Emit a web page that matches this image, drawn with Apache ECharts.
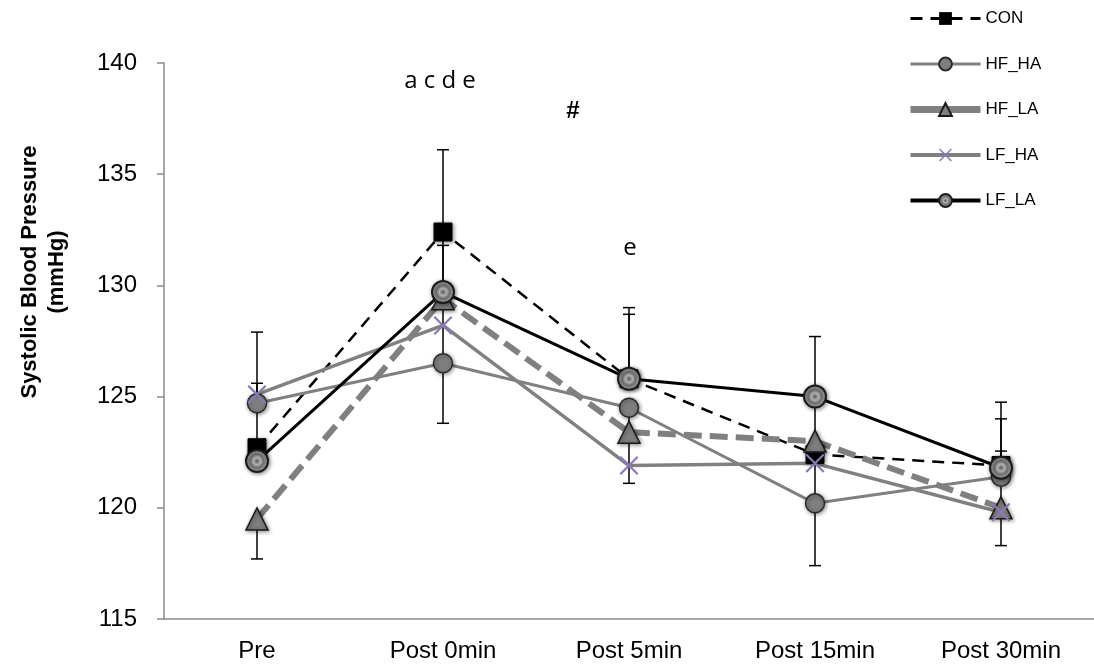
<!DOCTYPE html>
<html>
<head>
<meta charset="utf-8">
<script src="https://cdn.jsdelivr.net/npm/echarts@6/dist/echarts.min.js"></script>
<style>html,body{margin:0;padding:0;background:#fff;}#c{width:1094px;height:664px;}</style>
</head>
<body>
<div id="c"></div>
<script>
const categories = ['Pre', 'Post 0min', 'Post 5min', 'Post 15min', 'Post 30min'];
const CON   = [122.7, 132.4, 125.8, 122.4, 121.9];
const HF_HA = [124.7, 126.5, 124.5, 120.2, 121.4];
const HF_LA = [119.5, 129.4, 123.4, 123.0, 120.0];
const LF_HA = [125.1, 128.2, 121.9, 122.0, 119.8];
const LF_LA = [122.1, 129.7, 125.8, 125.0, 121.8];
// error bars: [category index, from value, to value (capped end)]
const errorBars = [
  [0, 122.7, 127.9], [0, 124.7, 125.6], [0, 119.5, 117.7],
  [1, 132.4, 136.1], [1, 132.4, 123.8], [1, 129.7, 131.8],
  [2, 125.8, 129.0], [2, 125.8, 128.7], [2, 124.5, 121.1],
  [3, 125.0, 127.7], [3, 125.0, 117.4],
  [4, 121.8, 124.75], [4, 121.8, 124.0], [4, 121.8, 122.55], [4, 121.8, 118.3]
];
const yTicks = {min: 115, max: 140, interval: 5};

const FONT = '"Liberation Sans", Arial, sans-serif';
const shadow = {shadowBlur: 4, shadowColor: 'rgba(0,0,0,0.45)', shadowOffsetX: 1, shadowOffsetY: 1};
const xPath = 'path://M0,0.8 L0.8,0 L5,4.2 L9.2,0 L10,0.8 L5.8,5 L10,9.2 L9.2,10 L5,5.8 L0.8,10 L0,9.2 L4.2,5 Z';
const checker = {
  type: 'radial', x: 0.5, y: 0.5, r: 0.5,
  colorStops: [{offset: 0, color: '#5a5a5a'}, {offset: 0.3, color: '#b0b0b0'}, {offset: 0.55, color: '#6e6e6e'}, {offset: 0.8, color: '#a0a0a0'}, {offset: 1, color: '#555'}]
};

const chart = echarts.init(document.getElementById('c'));
chart.setOption({
  animation: false,
  backgroundColor: '#fff',
  grid: {left: 164, top: 63, width: 943, height: 556},
  legend: {
    orient: 'vertical', left: 907, top: 10, padding: 0,
    itemWidth: 70, itemHeight: 16, itemGap: 28.5,
    textStyle: {fontFamily: FONT, fontSize: 17, color: '#000'},
    data: [
      {name: 'CON', lineStyle: {width: 3}},
      {name: 'HF_HA', lineStyle: {width: 3}},
      {name: 'HF_LA', lineStyle: {type: 'solid', width: 7}},
      {name: 'LF_HA', lineStyle: {width: 4}},
      {name: 'LF_LA', lineStyle: {width: 4}}
    ]
  },
  xAxis: {
    type: 'category', data: categories, boundaryGap: true,
    axisLine: {lineStyle: {color: '#8c8c8c', width: 1.5}},
    axisTick: {show: false},
    axisLabel: {color: '#000', fontFamily: FONT, fontSize: 24, margin: 20}
  },
  yAxis: {
    type: 'value', min: yTicks.min, max: yTicks.max, interval: yTicks.interval,
    axisLine: {show: true, lineStyle: {color: '#8c8c8c', width: 1.5}},
    axisTick: {show: true, length: 7, lineStyle: {color: '#8c8c8c', width: 1.5}},
    splitLine: {show: false},
    axisLabel: {color: '#000', fontFamily: FONT, fontSize: 24, margin: 27}
  },
  graphic: [
    {type: 'text', x: 43, y: 272, rotation: Math.PI / 2,
     style: {text: 'Systolic Blood Pressure\n(mmHg)', fontFamily: FONT, fontSize: 22, fontWeight: 'bold',
             fill: '#000', align: 'center', verticalAlign: 'middle', lineHeight: 27}},
    {type: 'text', x: 440, y: 81,
     style: {text: 'a c d e', fontFamily: '"Open Sans", sans-serif', fontSize: 24, fill: '#000', align: 'center', verticalAlign: 'middle'}},
    {type: 'text', x: 573, y: 111,
     style: {text: '#', fontFamily: FONT, fontSize: 24, fontWeight: 'bold', fill: '#000', align: 'center', verticalAlign: 'middle'}},
    {type: 'text', x: 630, y: 248,
     style: {text: 'e', fontFamily: '"Open Sans", sans-serif', fontSize: 24, fill: '#000', align: 'center', verticalAlign: 'middle'}}
  ],
  series: [
    {
      type: 'custom', name: 'err', z: 1, silent: true,
      encode: {x: 0, y: [1, 2]},
      data: errorBars,
      renderItem: function (params, api) {
        const p1 = api.coord([api.value(0), api.value(1)]);
        const p2 = api.coord([api.value(0), api.value(2)]);
        const w = 6;
        return {type: 'group', children: [
          {type: 'line', shape: {x1: p1[0], y1: p1[1], x2: p2[0], y2: p2[1]}, style: {stroke: '#000', lineWidth: 1.5}},
          {type: 'line', shape: {x1: p2[0] - w, y1: p2[1], x2: p2[0] + w, y2: p2[1]}, style: {stroke: '#000', lineWidth: 1.5}}
        ]};
      }
    },
    {
      name: 'CON', type: 'line', data: CON, symbol: 'rect', symbolSize: 18,
      lineStyle: {color: '#000', width: 2.5, type: [12, 8]},
      itemStyle: Object.assign({color: '#000', borderColor: '#000'}, shadow)
    },
    {
      name: 'HF_HA', type: 'line', data: HF_HA, symbol: 'circle', symbolSize: 19,
      lineStyle: {color: '#808080', width: 3},
      itemStyle: Object.assign({color: '#7f7f7f', borderColor: '#2a2a2a', borderWidth: 1.5}, shadow)
    },
    {
      name: 'HF_LA', type: 'line', data: HF_LA, symbol: 'triangle', symbolSize: 22,
      lineStyle: {color: '#808080', width: 6, type: [18, 8]},
      itemStyle: Object.assign({color: '#7f7f7f', borderColor: '#1a1a1a', borderWidth: 1.5}, shadow)
    },
    {
      name: 'LF_HA', type: 'line', data: LF_HA, symbol: xPath, symbolSize: 19,
      lineStyle: {color: '#808080', width: 3.5},
      itemStyle: {color: '#8a78ba', borderWidth: 0}
    },
    {
      name: 'LF_LA', type: 'line', data: LF_LA, symbol: 'circle', symbolSize: 22,
      lineStyle: {color: '#000', width: 3},
      itemStyle: Object.assign({color: checker, borderColor: '#1a1a1a', borderWidth: 2}, shadow)
    }
  ]
});
</script>
</body>
</html>
